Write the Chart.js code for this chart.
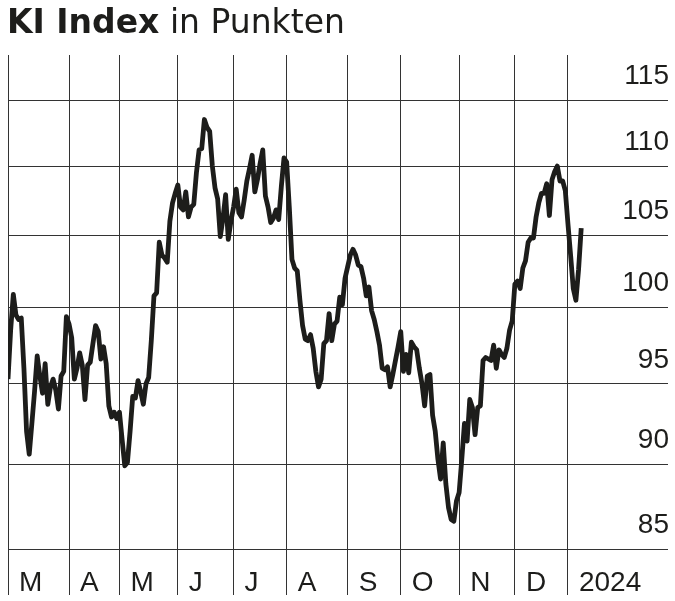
<!DOCTYPE html>
<html lang="de">
<head>
<meta charset="utf-8">
<title>KI Index in Punkten</title>
<script src="https://cdn.jsdelivr.net/npm/chart.js@4.4.1/dist/chart.umd.min.js"></script>
<style>
	html, body { margin:0; padding:0; background:#fff; }
	#wrap { position:relative; width:675px; height:601px; overflow:hidden; }
	#titel { position:absolute; left:7px; top:3px; font-family:'DejaVu Sans', sans-serif; font-size:33px; line-height:37px; color:#1d1d1b; white-space:nowrap; }
	#titel b { font-weight:bold; }
	#grafik { position:absolute; left:0; top:0; }
</style>
</head>
<body>
<div id="wrap">
	<canvas id="grafik" width="675" height="601"></canvas>
	<div id="titel"><b>KI Index</b> in Punkten</div>
</div>
<script>
//-------------daten-----------------//
const monate = ['M', 'A', 'M', 'J', 'J', 'A', 'S', 'O', 'N', 'D', '2024'];
const yTicks = [85, 90, 95, 100, 105, 110, 115];

// Tageswerte je Monat (Handelstage)
const maerz = [95.3, 98.5, 100.9, 99.5, 99.2, 99.3, 96.0, 92.0, 90.6, 92.5, 94.5, 96.8, 95.5, 94.4, 96.3, 93.7, 94.8, 95.3, 94.6, 93.4, 95.5, 95.8, 99.4];
const april = [98.9, 98.0, 95.3, 96.0, 97.0, 96.2, 94.0, 96.2, 96.4, 97.6, 98.8, 98.4, 96.6, 97.4, 96.3, 93.6, 92.9, 93.2, 92.8];
const mai = [93.2, 91.5, 89.9, 90.1, 92.0, 94.2, 94.1, 95.2, 94.5, 93.7, 95.0, 95.4, 97.8, 100.8, 101.0, 104.5, 103.6, 103.4, 103.1, 106.0, 107.3, 108.0];
const juni = [108.6, 107.0, 106.8, 108.1, 106.3, 107.0, 107.2, 109.5, 111.2, 111.3, 113.5, 112.9, 112.6, 110.0, 108.4, 107.6, 104.9, 106.2, 107.9, 104.7, 106.0];
const juli = [107.0, 108.3, 106.6, 106.3, 107.5, 108.9, 109.8, 110.8, 108.1, 109.0, 110.2, 111.2, 107.8, 107.0, 105.9, 106.2, 106.8, 106.1, 108.5, 110.6];
const august = [110.3, 107.0, 103.3, 102.7, 102.5, 100.5, 98.8, 97.9, 97.8, 98.2, 97.3, 95.8, 94.8, 95.3, 97.6, 97.8, 99.6, 97.8, 98.9, 99.1, 100.7, 100.2, 102.0];
const september = [102.8, 103.6, 104.0, 103.6, 102.9, 102.8, 102.0, 100.8, 101.4, 99.8, 99.2, 98.4, 97.5, 96.0, 95.9, 96.1, 94.8, 95.6, 96.5, 97.4];
const oktober = [98.4, 95.8, 96.9, 95.7, 97.7, 97.4, 97.2, 96.0, 95.0, 93.6, 95.5, 95.6, 93.0, 92.0, 90.3, 89.1, 91.3, 88.8, 87.4, 86.7, 86.6, 87.8];
const november = [88.3, 90.3, 92.5, 91.4, 94.0, 93.5, 91.8, 93.5, 93.6, 96.5, 96.7, 96.6, 96.5, 97.5, 96.0, 97.2, 96.9, 96.7, 97.3, 98.5, 99.1];
const dezember = [101.6, 101.8, 101.3, 102.7, 103.2, 104.5, 104.8, 104.8, 106.3, 107.3, 108.0, 108.0, 108.7, 106.4, 109.0, 109.6, 110.0, 108.9, 108.9, 108.2];
const januar = [105.8, 103.6, 101.3, 100.5, 102.6, 105.5];

const werteMonate = [maerz, april, mai, juni, juli, august, september, oktober, november, dezember, januar];

const farbe = '#1d1d1b';
const rasterFarbe = '#333333';
const schrift = { family: "'Liberation Sans', Arial, sans-serif", size: 28 };

window.onload = function() {
	zeichnen();
}

function zeichnen(){
	var punkte = [];
	var monatsAnfang = [];
	var n = 0;
	for (var m in werteMonate) {
		monatsAnfang.push(n);
		for (var k in werteMonate[m]) {
			punkte.push({x: n, y: werteMonate[m][k]});
			n++;
		}
	}

	const ctx = document.getElementById('grafik').getContext('2d');
	new Chart(ctx, {
		type: 'line',
		data: {
			datasets: [{
				data: punkte,
				borderColor: farbe,
				borderWidth: 4.8,
				borderJoinStyle: 'round',
				pointRadius: 0,
				tension: 0,
				fill: false
			}]
		},
		options: {
			responsive: false,
			animation: false,
			devicePixelRatio: 1,
			layout: {
				autoPadding: false,
				padding: { left: 8, right: 7, top: 55, bottom: 0 }
			},
			plugins: {
				legend: { display: false },
				tooltip: { enabled: false },
				title: { display: false }
			},
			scales: {
				x: {
					type: 'linear',
					min: 0,
					max: 248.7,
					afterBuildTicks: function(scale){
						scale.ticks = monatsAnfang.map(v => ({value: v}));
					},
					afterFit: function(scale){
						scale.height = 52;
					},
					grid: { color: rasterFarbe, lineWidth: 1, tickLength: 46, tickColor: rasterFarbe },
					border: { display: false },
					ticks: {
						autoSkip: false,
						maxRotation: 0,
						minRotation: 0,
						align: 'start',
						labelOffset: 11,
						padding: -29,
						color: farbe,
						font: schrift,
						callback: function(v, i){ return monate[i]; }
					}
				},
				y: {
					type: 'logarithmic',
					position: 'right',
					min: 85,
					max: 118.54,
					afterBuildTicks: function(scale){
						scale.ticks = yTicks.map(v => ({value: v}));
					},
					afterFit: function(scale){
						scale.width = 0;
					},
					grid: { color: rasterFarbe, lineWidth: 1, drawTicks: false },
					border: { display: false },
					ticks: {
						mirror: true,
						padding: 1,
						labelOffset: -24,
						color: farbe,
						font: schrift,
						callback: function(v){ return String(v); }
					}
				}
			}
		}
	});
}
</script>
</body>
</html>
